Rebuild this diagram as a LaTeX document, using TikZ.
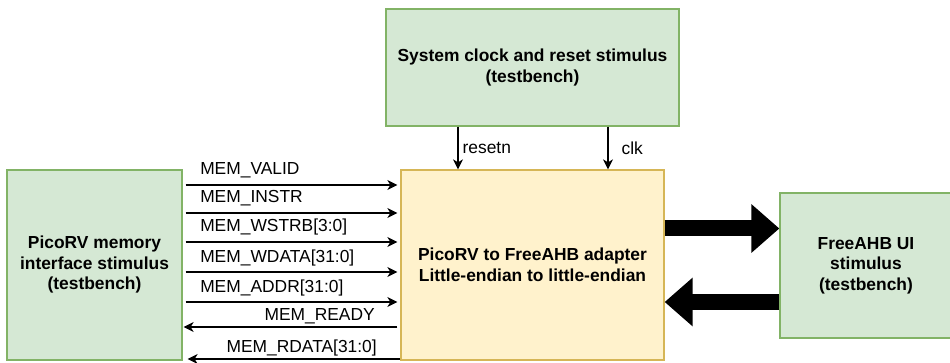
\documentclass[tikz,border=0pt]{standalone}
\usepackage{fontspec}
\setmainfont{Liberation Sans}
\usetikzlibrary{arrows.meta}
\definecolor{gfill}{HTML}{D5E8D4}
\definecolor{gline}{HTML}{82B366}
\definecolor{yfill}{HTML}{FFF2CC}
\definecolor{yline}{HTML}{D6B656}
\begin{document}
\begin{tikzpicture}[x=1pt,y=-1pt,
  every node/.style={font=\fontsize{17.4}{20}\selectfont},
  gbox/.style={draw=gline, fill=gfill, line width=1.3pt, align=center, inner sep=0pt,
    font=\fontsize{17.4}{20.5}\selectfont\bfseries},
  ybox/.style={draw=yline, fill=yfill, line width=1.3pt, align=center, inner sep=0pt,
    font=\fontsize{17.4}{20.5}\selectfont\bfseries},
  sig/.style={line width=1.2pt, -{Stealth[length=10pt,width=10pt,inset=3pt]}},
  bigarrow/.style={line width=16pt, -{Triangle[length=28pt,width=47pt]}}
]
\useasboundingbox (0,0) rectangle (950,363);

% boxes
\node[gbox, minimum width=175pt, minimum height=190pt] (pico) at (94.5,265)
  {PicoRV memory\\interface stimulus\\(testbench)};
\node[gbox, minimum width=293pt, minimum height=117pt] (sys) at (532.5,67.5)
  {System clock and reset stimulus\\(testbench)};
\node[ybox, minimum width=263pt, minimum height=190pt] (ad) at (532.5,265)
  {PicoRV to FreeAHB adapter\\Little-endian to little-endian};
\node[gbox, minimum width=172pt, minimum height=145pt] (ui) at (866,265.5)
  {FreeAHB UI\\stimulus\\(testbench)};

% helper coordinates
\coordinate (cr) at (458,0);
\coordinate (cc) at (608,0);
\coordinate (r1) at (0,185);
\coordinate (r2) at (0,213);
\coordinate (r3) at (0,242);
\coordinate (r4) at (0,272);
\coordinate (r5) at (0,302);
\coordinate (r6) at (0,327);
\coordinate (r7) at (0,359);
\coordinate (b1) at (0,228.5);
\coordinate (b2) at (0,302);

% clock / reset
\draw[sig] (sys.south -| cr) -- (ad.north -| cr)
  node[midway, right, inner sep=4pt] {resetn};
\draw[sig] (sys.south -| cc) -- (ad.north -| cc)
  node[midway, right, inner sep=13pt] {clk};

% memory interface signals
\draw[sig, shorten <=3pt, shorten >=3pt] (pico.east |- r1) -- (ad.west |- r1)
  node[pos=0, anchor=base west, xshift=17pt, yshift=10pt, inner sep=0pt] {MEM\_VALID};
\draw[sig, shorten <=3pt, shorten >=3pt] (pico.east |- r2) -- (ad.west |- r2)
  node[pos=0, anchor=base west, xshift=17pt, yshift=10pt, inner sep=0pt] {MEM\_INSTR};
\draw[sig, shorten <=3pt, shorten >=3pt] (pico.east |- r3) -- (ad.west |- r3)
  node[pos=0, anchor=base west, xshift=17pt, yshift=10pt, inner sep=0pt] {MEM\_WSTRB[3:0]};
\draw[sig, shorten <=3pt, shorten >=3pt] (pico.east |- r4) -- (ad.west |- r4)
  node[pos=0, anchor=base west, xshift=17pt, yshift=10pt, inner sep=0pt] {MEM\_WDATA[31:0]};
\draw[sig, shorten <=3pt, shorten >=3pt] (pico.east |- r5) -- (ad.west |- r5)
  node[pos=0, anchor=base west, xshift=17pt, yshift=10pt, inner sep=0pt] {MEM\_ADDR[31:0]};
\draw[sig, shorten <=3pt, shorten >=1pt] (ad.west |- r6) -- (pico.east |- r6)
  node[pos=0, anchor=base east, xshift=-25pt, yshift=7pt, inner sep=0pt] {MEM\_READY};
\draw[sig, shorten >=5pt] (ad.west |- r7) -- (pico.east |- r7)
  node[pos=0, anchor=base east, xshift=-23pt, yshift=7pt, inner sep=0pt] {MEM\_RDATA[31:0]};

% bus arrows
\draw[bigarrow] (ad.east |- b1) -- (ui.west |- b1);
\draw[bigarrow] (ui.west |- b2) -- (ad.east |- b2);
\end{tikzpicture}
\end{document}
